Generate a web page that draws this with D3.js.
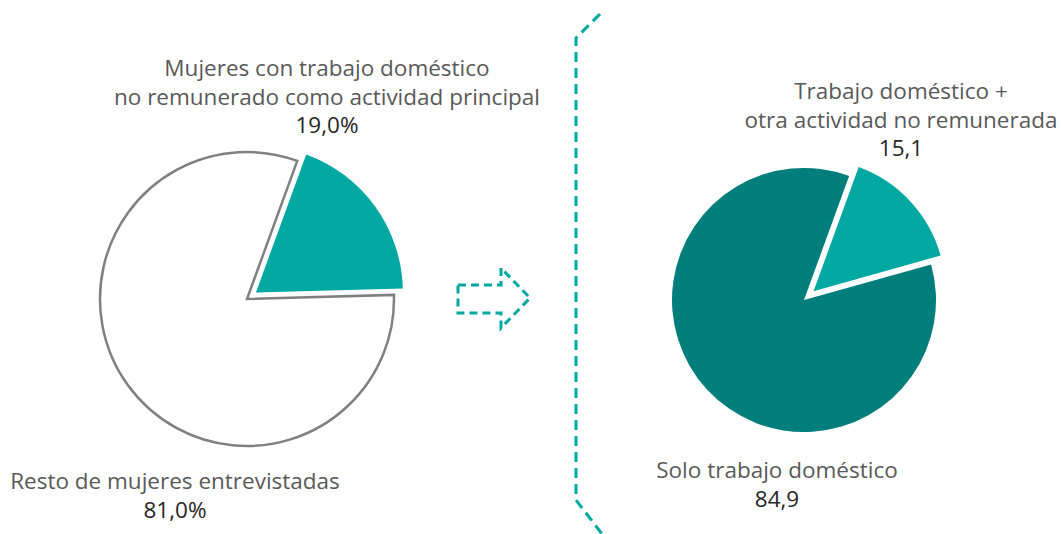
<!DOCTYPE html>
<html lang="es">
<head>
<meta charset="utf-8">
<script src="https://cdn.jsdelivr.net/npm/d3@7"></script>
<style>
  html, body { margin: 0; padding: 0; background: #fff; }
  svg { display: block; }
  text { font-family: "Open Sans", "Noto Sans", sans-serif; }
</style>
</head>
<body>
<svg id="chart" width="1061" height="534"></svg>
<script>
// Left pie: all women interviewed
const leftCategories = ["Mujeres con trabajo doméstico\nno remunerado como actividad principal", "Resto de mujeres entrevistadas"];
const leftValues = [19.0, 81.0];
const leftValueLabels = ["19,0%", "81,0%"];

// Right pie: breakdown of the 19,0%
const rightCategories = ["Trabajo doméstico +\notra actividad no remunerada", "Solo trabajo doméstico"];
const rightValues = [15.1, 84.9];
const rightValueLabels = ["15,1", "84,9"];

const TEAL = "#00A8A2";
const DARK_TEAL = "#007E7C";
const GREY_LINE = "#808080";
const LABEL = "#595959";
const VALUE = "#262626";

const svg = d3.select("#chart");
const deg = Math.PI / 180;

function drawPie(cfg) {
  const pie = d3.pie().sort(null)
    .startAngle(cfg.start * deg)
    .endAngle(cfg.start * deg + 2 * Math.PI);
  const arc = d3.arc().innerRadius(0).outerRadius(cfg.r);
  const arcs = pie(cfg.values);
  const g = svg.append("g").attr("transform", `translate(${cfg.cx},${cfg.cy})`);
  g.selectAll("path").data(arcs).join("path")
    .attr("d", arc)
    .attr("transform", (d, i) => {
      const off = cfg.explode[i];
      const a = (d.startAngle + d.endAngle) / 2;
      return `translate(${off * Math.sin(a)},${-off * Math.cos(a)})`;
    })
    .attr("fill", (d, i) => cfg.fills[i])
    .attr("stroke", (d, i) => cfg.strokes[i])
    .attr("stroke-width", (d, i) => cfg.strokeWidths[i])
    .attr("stroke-linejoin", "miter");
}

drawPie({
  cx: 247, cy: 299, r: 147, start: 20,
  values: leftValues,
  explode: [11, 0],
  fills: [TEAL, "#ffffff"],
  strokes: ["none", GREY_LINE],
  strokeWidths: [0, 2.5]
});

drawPie({
  cx: 804, cy: 300, r: 132, start: 20,
  values: rightValues,
  explode: [13, 0],
  fills: [TEAL, DARK_TEAL],
  strokes: ["none", "none"],
  strokeWidths: [0, 0]
});

// Labels: category lines in grey, value line in near-black
function label(x, y, category, value) {
  const lines = category.split("\n");
  const t = svg.append("text")
    .attr("x", x).attr("y", y)
    .attr("text-anchor", "middle")
    .attr("font-size", 22.5);
  lines.forEach((ln, i) => {
    t.append("tspan").attr("x", x).attr("dy", i === 0 ? 0 : 28.5)
      .attr("fill", LABEL).text(ln);
  });
  t.append("tspan").attr("x", x).attr("dy", 28.5).attr("fill", VALUE).text(value);
}

label(327, 76, leftCategories[0], leftValueLabels[0]);
label(175, 489, leftCategories[1], leftValueLabels[1]);
label(901, 99, rightCategories[0], rightValueLabels[0]);
label(777, 478, rightCategories[1], rightValueLabels[1]);

// Dashed arrow between the two pies
const arrow = d3.path();
arrow.moveTo(458, 285); arrow.lineTo(501, 285); arrow.lineTo(501, 268);
arrow.lineTo(530, 298); arrow.lineTo(501, 328); arrow.lineTo(501, 313);
arrow.lineTo(458, 313); arrow.closePath();
svg.append("path").attr("d", arrow.toString())
  .attr("fill", "none").attr("stroke", TEAL)
  .attr("stroke-width", 3).attr("stroke-dasharray", "8 5");

// Dashed bracket opening toward the right pie
const bracket = d3.line()([[600, 14], [576, 38], [576, 500], [602, 534]]);
svg.append("path").attr("d", bracket)
  .attr("fill", "none").attr("stroke", TEAL)
  .attr("stroke-width", 3).attr("stroke-dasharray", "10 6");
</script>
</body>
</html>
